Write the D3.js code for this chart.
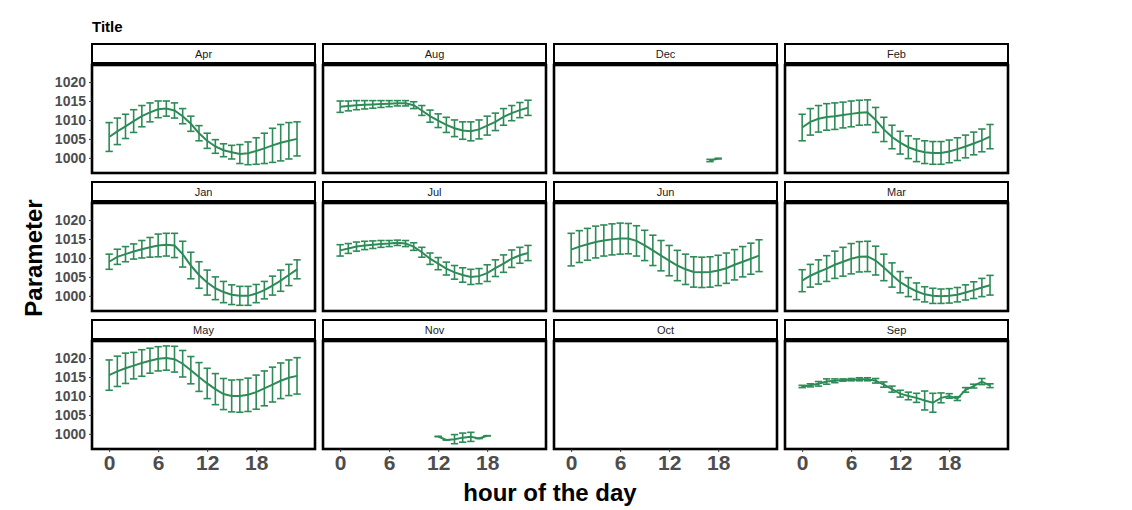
<!DOCTYPE html>
<html><head><meta charset="utf-8">
<script src="https://cdn.jsdelivr.net/npm/d3@7"></script>
<style>body{margin:0;background:#fff}text{font-family:Arial,"Liberation Sans",sans-serif}</style>
</head><body><svg id="c" width="1132" height="510"></svg>
<script>
const months = ["Apr","Aug","Dec","Feb","Jan","Jul","Jun","Mar","May","Nov","Oct","Sep"];
const hours = d3.range(24);
const meanApr=[1005.5,1007,1008.3,1009.7,1011,1012,1012.8,1013,1012.5,1011,1009,1006.5,1004.5,1003,1002,1001.5,1001,1001.2,1001.8,1002.5,1003.3,1004,1004.5,1005];
const errApr=[3.8,3.5,3.2,3,2.8,2.5,2.2,2,2,2,2,2,2,1.8,1.7,1.8,2.5,3,3.5,4,4.5,4.8,4.8,4.5];
const meanAug=[1013.5,1013.7,1013.9,1014,1014.1,1014.2,1014.3,1014.4,1014.4,1013.9,1012.5,1011,1009.8,1008.7,1007.8,1007.2,1007,1007.5,1008.5,1009.5,1010.8,1011.8,1012.6,1013.2];
const errAug=[1.5,1.3,1.2,1.1,1,0.9,0.8,0.7,0.7,0.9,1.3,1.6,1.8,2,2.2,2.3,2.5,2.5,2.5,2.3,2.2,2,2,2];
const hoursDec=[17,18];
const meanDec=[999.3,999.8];
const errDec=[0.3,0.1];
const meanFeb=[1008,1009.5,1010.3,1010.8,1011,1011.3,1011.6,1011.9,1012,1010,1007.5,1005.5,1004,1002.8,1002,1001.5,1001.3,1001.3,1001.7,1002.3,1003,1003.8,1004.6,1005.6];
const errFeb=[3.5,3.5,3.5,3.5,3.5,3.4,3.4,3.3,3.3,3.3,3.2,3.1,3,3,3,3,3,3,3,3,3,3,3,3.2];
const meanJan=[1009,1010.3,1011,1011.7,1012.3,1012.8,1013.3,1013.5,1013.3,1011,1008,1005.5,1003.5,1002,1001,1000.3,1000,1000,1000.6,1001.5,1002.7,1004,1005.5,1007];
const errJan=[2,2,2,2,2.3,2.6,3,3,3.2,3.4,3.5,3.5,3.3,3,2.8,2.6,2.5,2.5,2.4,2.3,2.5,2.8,2.8,2.5];
const meanJul=[1012,1012.5,1013,1013.3,1013.5,1013.7,1013.8,1014,1013.8,1013,1011.5,1009.8,1008.5,1007.2,1006.2,1005.5,1005,1005.2,1006,1007.3,1008.5,1009.8,1010.7,1011.3];
const errJul=[1.5,1.3,1.2,1.1,1,0.9,0.8,0.7,0.8,1,1.3,1.5,1.6,1.7,1.8,1.9,2,2,2.2,2.2,2.3,2.3,2.1,2];
const meanJun=[1012.2,1013,1013.6,1014.2,1014.6,1014.9,1015.1,1015.1,1014.5,1013.3,1012,1010.6,1009.3,1008,1007,1006.3,1006.2,1006.3,1006.7,1007.3,1008.2,1009,1009.8,1010.6];
const errJun=[4.3,4.2,4.2,4.2,4.1,4.1,4.1,4,4,4,4,4,4,4,4,4,4,4,4,4,4,4,4.1,4.2];
const meanMar=[1004,1005.3,1006.3,1007.2,1008.2,1009,1009.8,1010.3,1010.4,1009.3,1007.5,1005.5,1003.6,1002.3,1001.2,1000.4,1000,999.9,1000,1000.3,1000.9,1001.5,1002.2,1002.8];
const errMar=[2.9,3,3.2,3.4,3.6,3.8,4,4,4,3.8,3.5,3.2,2.8,2.5,2.2,2,2,1.9,1.9,1.9,2,2.2,2.4,2.6];
const meanMay=[1015.5,1016.5,1017.3,1018,1018.7,1019.3,1019.8,1020,1019.7,1018.5,1016.8,1015,1013.3,1011.8,1010.5,1010,1010,1010.3,1011,1012,1013,1014,1014.8,1015.3];
const errMay=[4,4,4,3.5,3.5,3.3,3.2,3.2,3.4,3.5,3.6,3.8,4,4.1,4.1,4.2,4.3,4.4,4.5,4.6,4.6,4.7,4.7,4.8];
const hoursNov=[12,13,14,15,16,17,18];
const meanNov=[999.3,998.4,998.6,999,999.2,998.8,999.5];
const errNov=[0,0,1.2,1.2,1.2,0,0];
const meanSep=[1012.5,1012.8,1013.2,1013.8,1014,1014.2,1014.3,1014.4,1014.4,1014,1013,1011.8,1010.6,1010,1009.5,1008.8,1008.2,1009.5,1010,1009.3,1011.6,1012.6,1013.8,1012.7];
const errSep=[0.3,0.4,0.6,0.7,0.5,0.3,0.3,0.4,0.4,0.6,0.7,0.8,0.9,1,1.2,2.5,2.5,1.3,0.6,0.5,0.6,0.5,0.8,0.5];
const yTicks=[1000,1005,1010,1015,1020];
const xTicks=[0,6,12,18];

const series={
 Apr:[hours,meanApr,errApr],Aug:[hours,meanAug,errAug],Dec:[hoursDec,meanDec,errDec],Feb:[hours,meanFeb,errFeb],
 Jan:[hours,meanJan,errJan],Jul:[hours,meanJul,errJul],Jun:[hours,meanJun,errJun],Mar:[hours,meanMar,errMar],
 May:[hours,meanMay,errMay],Nov:[hoursNov,meanNov,errNov],Oct:[[],[],[]],Sep:[hours,meanSep,errSep]};

const svg=d3.select("#c");
const colX=[92,323,554,785], pw=223;
const rowY=[65,203,341], ph=108, sh=19, sgap=2;
const x=d3.scaleLinear().domain([-2.1,25.2]).range([0,pw]);
const y=d3.scaleLinear().domain([996,1024.5]).range([ph,0]);
const green="#2e8b57";

svg.append("text").attr("x",92).attr("y",32).attr("font-size",15).attr("font-weight","bold").text("Title");

months.forEach((m,i)=>{
  const c=i%4,r=Math.floor(i/4);
  const g=svg.append("g").attr("transform",`translate(${colX[c]},${rowY[r]})`);
  // strip
  g.append("rect").attr("x",0).attr("y",-sh-sgap).attr("width",pw).attr("height",sh).attr("fill","#fff").attr("stroke","#000").attr("stroke-width",2);
  g.append("text").attr("x",pw/2).attr("y",-sgap-sh/2+4).attr("text-anchor","middle").attr("font-size",11).attr("fill","#1a1a1a").text(m);
  const [hs,ms,es]=series[m];
  const pts=hs.map((h,k)=>({h,m:ms[k],e:es[k]}));
  const eb=g.append("g").attr("stroke",green).attr("stroke-width",1.6).attr("fill","none");
  pts.forEach(p=>{
    const cx=x(p.h), cw=(x(0.45)-x(0));
    eb.append("line").attr("x1",cx).attr("x2",cx).attr("y1",y(p.m-p.e)).attr("y2",y(p.m+p.e));
    eb.append("line").attr("x1",cx-cw).attr("x2",cx+cw).attr("y1",y(p.m-p.e)).attr("y2",y(p.m-p.e));
    eb.append("line").attr("x1",cx-cw).attr("x2",cx+cw).attr("y1",y(p.m+p.e)).attr("y2",y(p.m+p.e));
  });
  if(pts.length) g.append("path").datum(pts).attr("fill","none").attr("stroke",green).attr("stroke-width",2)
    .attr("d",d3.line().x(p=>x(p.h)).y(p=>y(p.m)));
  g.append("rect").attr("x",0).attr("y",0).attr("width",pw).attr("height",ph).attr("fill","none").attr("stroke","#000").attr("stroke-width",2.6);
  if(c===0){
    const ax=g.append("g").call(d3.axisLeft(y).tickValues(yTicks).tickSize(3).tickPadding(3).tickFormat(d3.format("d")));
    ax.select(".domain").remove();
    ax.selectAll("line").attr("stroke","#333");
    ax.selectAll("text").attr("font-size",14).attr("font-weight","bold").attr("fill","#4d4d4d").attr("font-family","Arial,'Liberation Sans',sans-serif");
  }
  if(r===2){
    const ax=g.append("g").attr("transform",`translate(0,${ph})`).call(d3.axisBottom(x).tickValues(xTicks).tickSize(3).tickPadding(2));
    ax.select(".domain").remove();
    ax.selectAll("line").attr("stroke","#333");
    ax.selectAll("text").attr("font-size",21).attr("font-weight","bold").attr("fill","#4d4d4d").attr("dy","0.75em").attr("font-family","Arial,'Liberation Sans',sans-serif");
  }
});
svg.append("text").attr("x",550).attr("y",501).attr("text-anchor","middle").attr("font-size",24).attr("font-weight","bold").text("hour of the day");
svg.append("text").attr("transform","translate(42,258) rotate(-90)").attr("text-anchor","middle").attr("font-size",24).attr("font-weight","bold").text("Parameter");
</script></body></html>
